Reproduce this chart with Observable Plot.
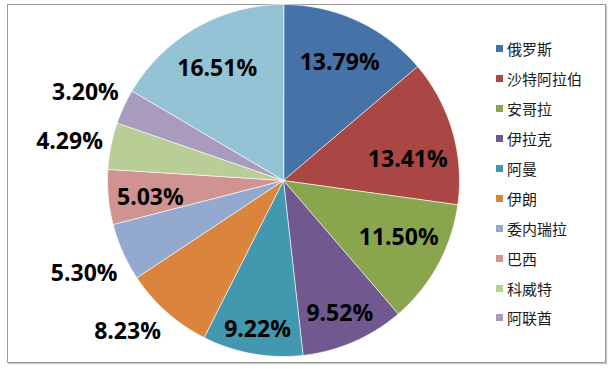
<!DOCTYPE html>
<html><head><meta charset="utf-8">
<script src="https://cdn.jsdelivr.net/npm/d3@7"></script>
<script src="https://cdn.jsdelivr.net/npm/@observablehq/plot@0.6"></script>
<style>
body{margin:0;background:#fff;}
#wrap{position:relative;width:610px;height:369px;overflow:hidden;background:#fff;}
#frame{position:absolute;left:7px;top:4px;width:597px;height:357px;border:1px solid #9a9a9a;box-shadow:1px 1px 1px #c8c8c8;}
#chart{position:absolute;left:0;top:0;}
#legend{position:absolute;left:496px;top:34px;font-family:"Noto Sans CJK SC",sans-serif;font-size:15px;color:#1a1a1a;}
.item{height:29.9px;display:flex;align-items:center;white-space:nowrap;}
.sw{width:7px;height:7px;margin-right:4px;flex:none;}
</style></head><body>
<div id="wrap"><div id="frame"></div><div id="chart"></div><div id="legend"></div></div>
<script>
const countries = ["俄罗斯","沙特阿拉伯","安哥拉","伊拉克","阿曼","伊朗","委内瑞拉","巴西","科威特","阿联酋","其他"];
const shares = [13.79,13.41,11.50,9.52,9.22,8.23,5.30,5.03,4.29,3.20,16.51];
const labels = ["13.79%","13.41%","11.50%","9.52%","9.22%","8.23%","5.30%","5.03%","4.29%","3.20%","16.51%"];
const colors = ["#4572A7","#AA4643","#89A54E","#71588F","#4198AF","#DB843D","#93A9CF","#D19392","#B9CD96","#A99BBD","#93C3D4"];
const legendCountries = countries.slice(0, 10);
const outsideLabels = ["伊朗","委内瑞拉","科威特","阿联酋"];
// best-fit label placement tweaks (degrees, radius factor)
const labelNudge = {"沙特阿拉伯": [5, 0.72], "安哥拉": [-4, 0.72], "伊拉克": [0, 0.8], "阿曼": [0, 0.835], "伊朗": [5, 1.22]};

const pie = d3.pie().sort(null).value(d => d)(shares);

// slice outlines (unit circle, clockwise from 12 o'clock)
const rows = [];
pie.forEach((p, i) => {
  const name = countries[i];
  rows.push({name, x: 0, y: 0});
  const n = Math.max(2, Math.ceil((p.endAngle - p.startAngle) / (Math.PI / 360)));
  for (let k = 0; k <= n; k++) {
    const a = p.startAngle + (p.endAngle - p.startAngle) * k / n;
    rows.push({name, x: Math.sin(a), y: Math.cos(a)});
  }
});

const labelRows = pie.map((p, i) => {
  const name = countries[i];
  let a = (p.startAngle + p.endAngle) / 2;
  let r = outsideLabels.includes(name) ? 1.24 : 0.76;
  if (labelNudge[name]) { a += labelNudge[name][0] * Math.PI / 180; r = labelNudge[name][1]; }
  return {text: labels[i], x: r * Math.sin(a), y: r * Math.cos(a)};
});

const chart = Plot.plot({
  width: 610,
  height: 369,
  marginLeft: 107,
  marginRight: 151,
  marginTop: 4,
  marginBottom: 13,
  x: {domain: [-1, 1], axis: null},
  y: {domain: [-1, 1], axis: null},
  color: {domain: countries, range: colors},
  style: {background: "transparent", overflow: "visible"},
  marks: [
    Plot.line(rows, {x: "x", y: "y", z: "name", fill: "name", stroke: "#ffffff", strokeWidth: 0.8, strokeOpacity: 0.85, curve: "linear-closed"}),
    Plot.text(labelRows, {x: "x", y: "y", text: "text", dy: 4, fill: "#000", fontSize: 23, fontWeight: "bold", fontFamily: "Open Sans"})
  ]
});
document.getElementById("chart").appendChild(chart);

const legend = d3.select("#legend");
legendCountries.forEach((c, i) => {
  const it = legend.append("div").attr("class", "item");
  it.append("div").attr("class", "sw").style("background", colors[i]);
  it.append("span").text(c);
});
</script>
</body></html>
